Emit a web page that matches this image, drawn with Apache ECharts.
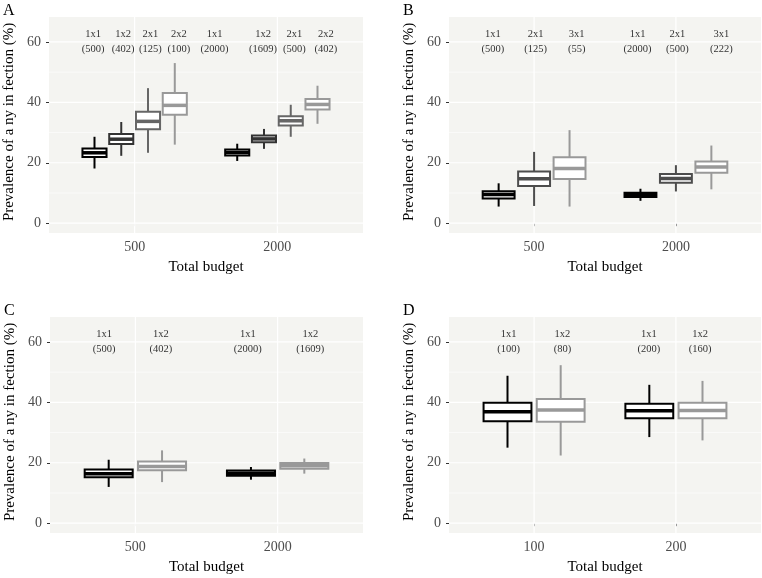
<!DOCTYPE html>
<html>
<head>
<meta charset="utf-8">
<script src="https://cdn.jsdelivr.net/npm/echarts@6/dist/echarts.min.js"></script>
<style>
html, body { margin: 0; padding: 0; background: #fff; }
#chart { width: 762px; height: 578px; }
</style>
</head>
<body>
<div id="chart"></div>
<script>
// x axis categories (total budget) per panel
var budgetsABC = ['500', '2000'];
var budgetsD = ['100', '200'];
var yTicks = [0, 20, 40, 60];
var yMinor = [10, 30, 50];

// box stats: [min, q1, median, q3, max], one row per design
var designsA = ['1x1', '1x2', '2x1', '2x2'];
var statsA500 = [[18.1, 21.9, 23.3, 24.7, 28.6], [22.3, 26.2, 27.8, 29.5, 33.5], [23.3, 31.1, 33.7, 36.9, 44.7], [26.0, 35.9, 39.0, 43.1, 53.0]];
var statsA2000 = [[20.6, 22.4, 23.4, 24.4, 26.3], [24.6, 26.8, 27.9, 29.0, 31.2], [28.6, 32.3, 33.9, 35.4, 39.2], [32.9, 37.6, 39.3, 41.1, 45.5]];
var countsA = [500, 402, 125, 100, 2000, 1609, 500, 402];
var labelXA = [0.71, 0.92, 1.11, 1.31, 1.56, 1.90, 2.12, 2.34];

var designsB = ['1x1', '2x1', '3x1'];
var statsB500 = [[5.5, 8.2, 9.5, 10.6, 13.2], [5.7, 12.3, 14.7, 17.1, 23.6], [5.5, 14.6, 18.1, 21.8, 30.8]];
var statsB2000 = [[7.4, 8.7, 9.4, 10.1, 11.4], [10.5, 13.4, 14.8, 16.3, 19.2], [11.2, 16.7, 18.6, 20.4, 25.7]];
var countsB = [500, 125, 55, 2000, 500, 222];
var labelXB = [0.71, 1.01, 1.30, 1.73, 2.01, 2.32];

var designsC = ['1x1', '1x2'];
var statsC500 = [[12.0, 15.2, 16.4, 17.8, 21.0], [13.6, 17.5, 18.8, 20.4, 24.1]];
var statsC2000 = [[14.4, 15.7, 16.5, 17.4, 18.6], [16.4, 18.0, 19.0, 19.9, 21.4]];
var countsC = [500, 402, 2000, 1609];
var labelXC = [0.78, 1.18, 1.79, 2.23];

var designsD = ['1x1', '1x2'];
var statsD100 = [[25.0, 33.7, 36.9, 39.9, 48.8], [22.4, 33.6, 37.5, 41.1, 52.3]];
var statsD200 = [[28.5, 34.7, 37.2, 39.5, 45.8], [27.4, 34.7, 37.3, 39.9, 47.1]];
var countsD = [100, 80, 200, 160];
var labelXD = [0.82, 1.20, 1.81, 2.17];

var FONT = '"Liberation Serif", "DejaVu Serif", serif';
var PANEL_BG = '#f4f4f1';
var YTITLE = 'Prevalence of a ny in fection (%)';

var panels = [
	{ letter: 'A', box: [49, 17, 314, 216], budgets: budgetsABC, designs: designsA, stats: [statsA500, statsA2000], counts: countsA, labelX: labelXA, colors: ['#000000', '#333333', '#666666', '#999999'] },
	{ letter: 'B', box: [449, 17, 312, 216], budgets: budgetsABC, designs: designsB, stats: [statsB500, statsB2000], counts: countsB, labelX: labelXB, colors: ['#000000', '#4d4d4d', '#999999'] },
	{ letter: 'C', box: [50, 317, 313, 216], budgets: budgetsABC, designs: designsC, stats: [statsC500, statsC2000], counts: countsC, labelX: labelXC, colors: ['#000000', '#999999'] },
	{ letter: 'D', box: [449, 317, 312, 216], budgets: budgetsD, designs: designsD, stats: [statsD100, statsD200], counts: countsD, labelX: labelXD, colors: ['#000000', '#999999'] }
];

function boxRenderer(n, colors) {
	return function (params, api) {
		var k = api.value(1);
		var pitch = 0.75 / n;
		var x = api.value(0) + (k - (n - 1) / 2) * pitch;
		var w = api.size([pitch, 0])[0] * 0.9;
		var pMin = api.coord([x, api.value(2)]);
		var pQ1 = api.coord([x, api.value(3)]);
		var pMed = api.coord([x, api.value(4)]);
		var pQ3 = api.coord([x, api.value(5)]);
		var pMax = api.coord([x, api.value(6)]);
		var c = colors[k];
		return {
			type: 'group',
			children: [
				{ type: 'line', shape: { x1: pMax[0], y1: pMax[1], x2: pQ3[0], y2: pQ3[1] }, style: { stroke: c, lineWidth: 2 } },
				{ type: 'line', shape: { x1: pQ1[0], y1: pQ1[1], x2: pMin[0], y2: pMin[1] }, style: { stroke: c, lineWidth: 2 } },
				{ type: 'rect', shape: { x: pQ3[0] - w / 2, y: pQ3[1], width: w, height: pQ1[1] - pQ3[1] }, style: { fill: '#ffffff', stroke: c, lineWidth: 2 } },
				{ type: 'line', shape: { x1: pMed[0] - w / 2, y1: pMed[1], x2: pMed[0] + w / 2, y2: pMed[1] }, style: { stroke: c, lineWidth: 3.5 } }
			]
		};
	};
}

function hLineRenderer(params, api) {
	var cs = params.coordSys;
	var y = api.coord([1, api.value(1)])[1];
	return { type: 'line', shape: { x1: cs.x, y1: y, x2: cs.x + cs.width, y2: y }, style: { stroke: '#ffffff', lineWidth: api.value(2) ? 1.2 : 0.6 } };
}

function vLineRenderer(params, api) {
	var cs = params.coordSys;
	var x = api.coord([api.value(0), 30])[0];
	return { type: 'line', shape: { x1: x, y1: cs.y, x2: x, y2: cs.y + cs.height }, style: { stroke: '#ffffff', lineWidth: 1.2 } };
}

var grids = [], xAxes = [], yAxes = [], series = [], graphics = [];

panels.forEach(function (p, i) {
	var n = p.designs.length;
	grids.push({ left: p.box[0], top: p.box[1], width: p.box[2], height: p.box[3], show: true, backgroundColor: PANEL_BG, borderWidth: 0 });

	xAxes.push({
		gridIndex: i, type: 'value', min: 0.4, max: 2.6,
		axisLine: { show: false },
		axisTick: { show: true, length: 3, customValues: [1, 2], lineStyle: { color: '#333' } },
		axisLabel: { customValues: [1, 2], margin: 7, color: '#4d4d4d', fontSize: 14, fontFamily: FONT,
			formatter: (function (b) { return function (v) { return b[Math.round(v) - 1]; }; })(p.budgets) },
		splitLine: { show: false },
		name: 'Total budget', nameLocation: 'middle', nameGap: 27,
		nameTextStyle: { color: '#000', fontSize: 15, fontFamily: FONT }
	});

	yAxes.push({
		gridIndex: i, type: 'value', min: -3.25, max: 68.25,
		axisLine: { show: false },
		axisTick: { show: true, length: 3, customValues: yTicks, lineStyle: { color: '#333' } },
		axisLabel: { customValues: yTicks, margin: 8, color: '#4d4d4d', fontSize: 14, fontFamily: FONT },
		splitLine: { show: false }
	});

	series.push({
		type: 'custom', name: 'hgrid' + i, xAxisIndex: i, yAxisIndex: i, silent: true, z: 1,
		renderItem: hLineRenderer,
		data: yTicks.map(function (v) { return [1, v, 1]; }).concat(yMinor.map(function (v) { return [1, v, 0]; }))
	});
	series.push({
		type: 'custom', name: 'vgrid' + i, xAxisIndex: i, yAxisIndex: i, silent: true, z: 1,
		renderItem: vLineRenderer,
		data: [[1, 30], [2, 30]]
	});

	var boxData = [];
	p.stats.forEach(function (group, g) {
		group.forEach(function (s, k) {
			boxData.push([g + 1, k].concat(s));
		});
	});
	series.push({
		type: 'custom', name: 'box' + i, xAxisIndex: i, yAxisIndex: i, z: 2,
		encode: { x: 0, y: 4 },
		renderItem: boxRenderer(n, p.colors),
		data: boxData
	});

	var texts = p.counts.map(function (c, j) { return p.designs[j % n] + '\n(' + c + ')'; });
	series.push({
		type: 'custom', name: 'lab' + i, xAxisIndex: i, yAxisIndex: i, z: 3, silent: true,
		renderItem: (function (t) {
			return function (params, api) {
				var pt = api.coord([api.value(0), api.value(1)]);
				return { type: 'text', x: pt[0], y: pt[1], style: { text: t[api.value(2)], fill: '#333', font: '10.5px ' + FONT, align: 'center', verticalAlign: 'middle', lineHeight: 15 } };
			};
		})(texts),
		data: p.labelX.map(function (x, j) { return [x, 60, j]; })
	});

	graphics.push({ type: 'text', left: p.box[0] - 46, top: p.box[1] - 14, style: { text: p.letter, fill: '#000', font: '16px ' + FONT } });
	graphics.push({
		type: 'text', x: p.box[0] - 40, y: p.box[1] + p.box[3] / 2 - 3, rotation: Math.PI / 2,
		style: { text: YTITLE, fill: '#000', font: '15px ' + FONT, align: 'center', verticalAlign: 'middle' }
	});
});

var chart = echarts.init(document.getElementById('chart'));
chart.setOption({
	backgroundColor: '#ffffff',
	animation: false,
	grid: grids,
	xAxis: xAxes,
	yAxis: yAxes,
	series: series,
	graphic: graphics
});
</script>
</body>
</html>
